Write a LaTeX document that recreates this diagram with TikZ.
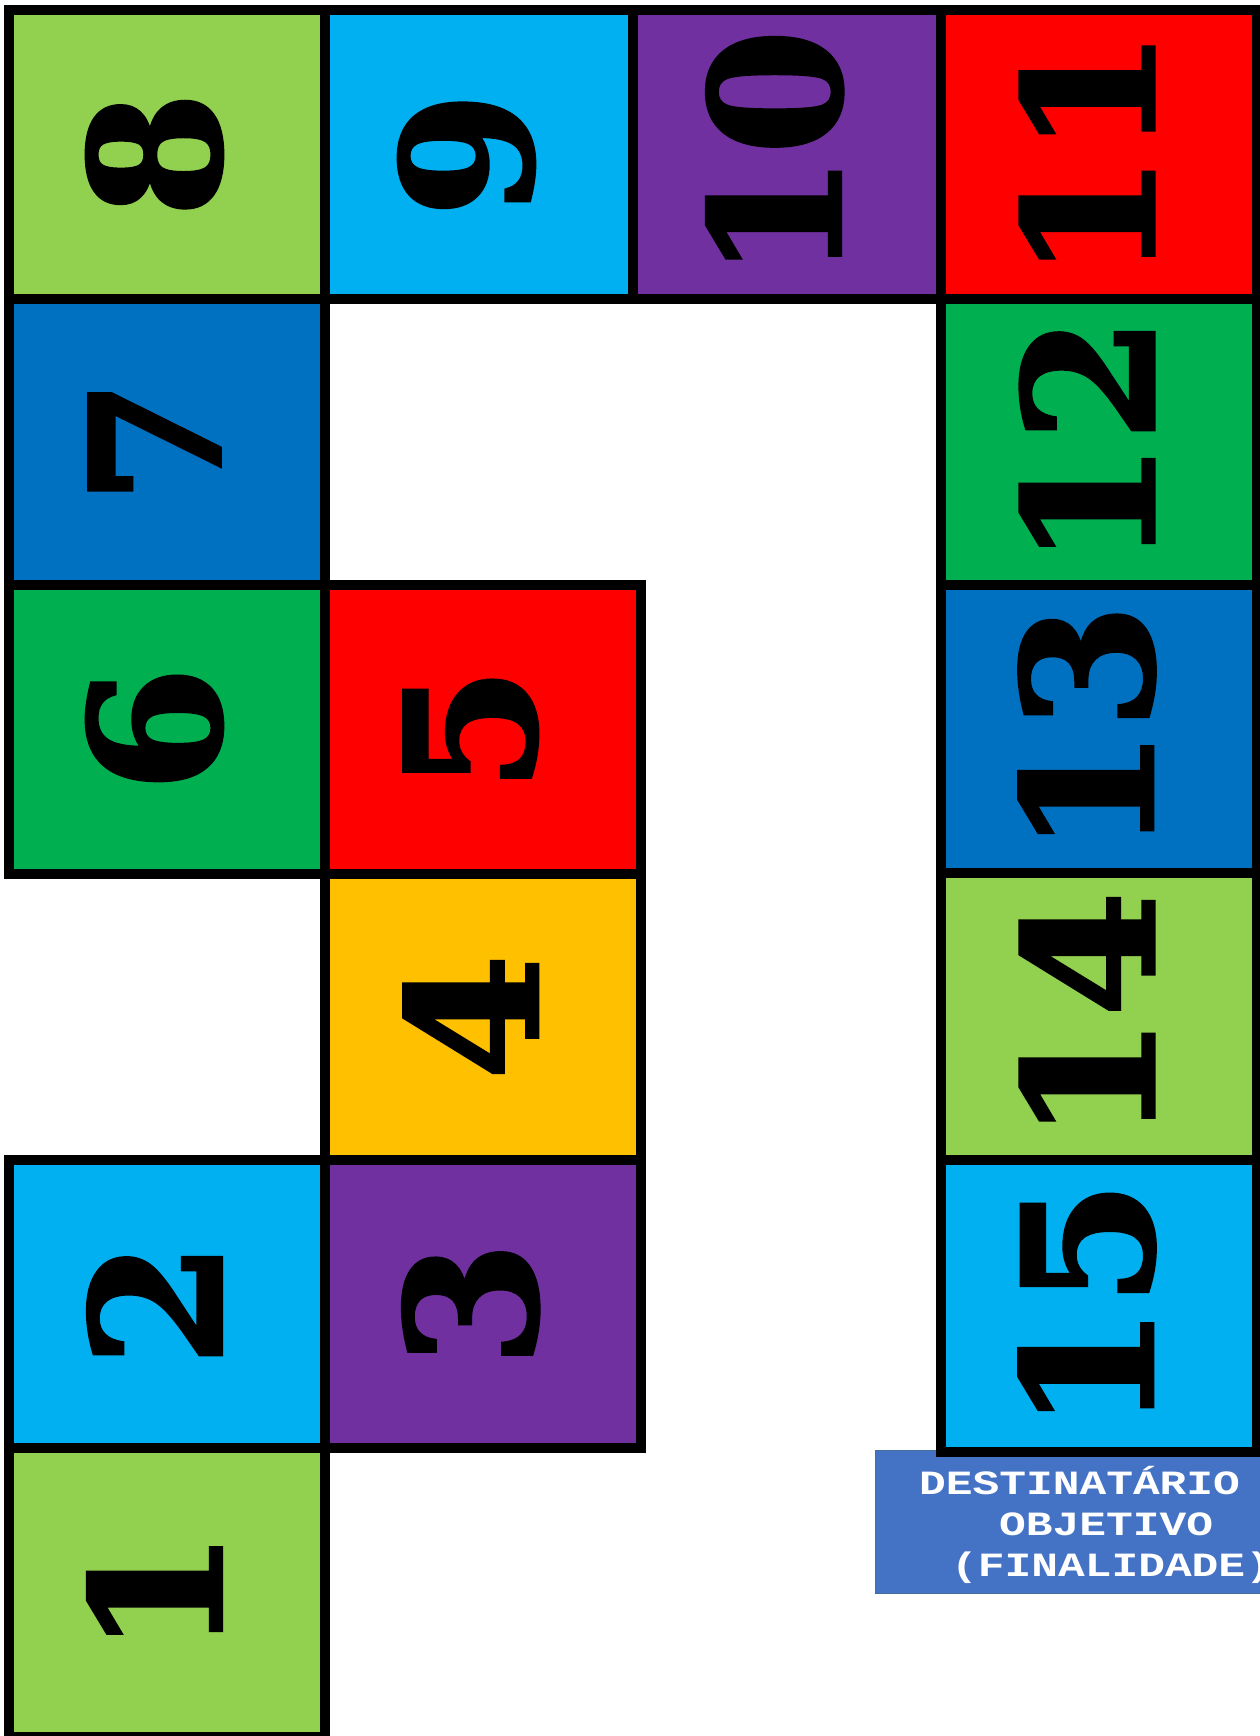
\documentclass[tikz,border=0pt]{standalone}
\usepackage{fontspec}
\newfontfamily\digfont{DejaVu Serif}[BoldFeatures={FakeBold=2}]
\newfontfamily\lblfont{Liberation Mono}
\definecolor{lgreen}{HTML}{92D050}
\definecolor{lblue}{HTML}{00B0F0}
\definecolor{purp}{HTML}{7030A0}
\definecolor{redc}{HTML}{FF0000}
\definecolor{dblue}{HTML}{0070C0}
\definecolor{dgreen}{HTML}{00B050}
\definecolor{yell}{HTML}{FFC000}
\definecolor{lblbg}{HTML}{4472C4}
\definecolor{lbledge}{HTML}{41719C}
\tikzset{
  cell/.style={draw=black, line width=10pt, rectangle, inner sep=0pt, outer sep=0pt},
  num/.style={rotate=90, inner sep=0pt, font=\digfont\bfseries\fontsize{180}{184}\selectfont},
  lbl/.style={anchor=base west, inner sep=0pt, text=white, font=\lblfont\bfseries\fontsize{34}{36}\selectfont},
}
\newcommand\dig[1]{\scalebox{1.0}[1]{#1}}
\newcommand\lbltxt[1]{\scalebox{1.31}[1]{#1}}
\begin{document}
\begin{tikzpicture}[x=1pt,y=-1pt]
\useasboundingbox (0,0) rectangle (1259,1736);
% label box
\node[fill=lblbg, draw=lbledge, line width=1pt, inner sep=0pt, minimum width=400pt, minimum height=143pt, anchor=north west] (lab) at (875,1449.5) {};
\node[lbl] (l1) at (919,1494) {\lbltxt{DESTINATÁRIO}};
\node[lbl] (l2) at (999,1535) {\lbltxt{OBJETIVO}};
\node[lbl] (l3) at (951,1576) {\lbltxt{(FINALIDADE)}};
% cells
\node[cell, fill=lgreen, minimum width=316pt, minimum height=288pt] (b8) at (166.5,154.5) {};
\node[cell, fill=lblue, minimum width=308pt, minimum height=288pt] (b9) at (478.5,154.5) {};
\node[cell, fill=purp, minimum width=308.5pt, minimum height=288pt] (b10) at (786.75,154.5) {};
\node[cell, fill=redc, minimum width=316pt, minimum height=288pt] (b11) at (1099,154.5) {};
\node[cell, fill=dblue, minimum width=316pt, minimum height=286pt] (b7) at (166.5,441.5) {};
\node[cell, fill=dgreen, minimum width=316pt, minimum height=286.5pt] (b12) at (1099,441.75) {};
\node[cell, fill=dgreen, minimum width=316pt, minimum height=289.5pt] (b6) at (166.5,729.25) {};
\node[cell, fill=redc, minimum width=316.5pt, minimum height=289.5pt] (b5) at (482.75,729.25) {};
\node[cell, fill=dblue, minimum width=316pt, minimum height=288pt] (b13) at (1099,729) {};
\node[cell, fill=yell, minimum width=316.5pt, minimum height=286pt] (b4) at (482.75,1017) {};
\node[cell, fill=lgreen, minimum width=316pt, minimum height=287pt] (b14) at (1099,1016.5) {};
\node[cell, fill=lblue, minimum width=316pt, minimum height=288pt] (b2) at (166.5,1304) {};
\node[cell, fill=purp, minimum width=316.5pt, minimum height=288pt] (b3) at (482.75,1304) {};
\node[cell, fill=lblue, minimum width=316pt, minimum height=292pt] (b15) at (1099,1306) {};
\node[cell, fill=lgreen, minimum width=316pt, minimum height=289pt] (b1) at (166.5,1592.5) {};
% numbers
\foreach \n in {1,...,15}{
  \node[num] (n\n) at ([xshift=-12pt]b\n.center) {\dig{\n}};
}
\end{tikzpicture}
\end{document}
